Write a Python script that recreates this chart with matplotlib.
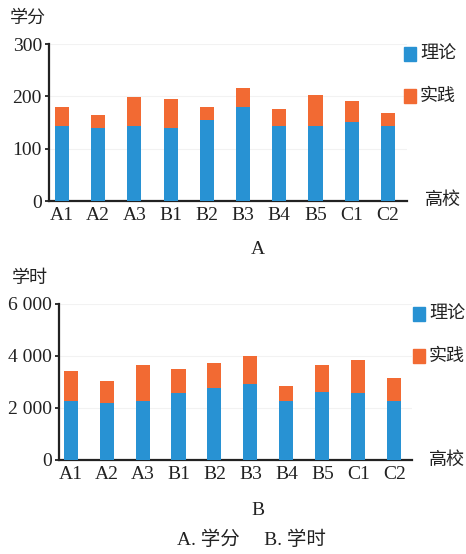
import matplotlib
matplotlib.use("Agg")
import matplotlib.pyplot as plt
import numpy as np

schools = ["A1", "A2", "A3", "B1", "B2", "B3", "B4", "B5", "C1", "C2"]
credit_theory = [144, 140, 144, 140, 155, 180, 144, 144, 151, 144]
credit_practice = [36, 25, 55, 55, 25, 37, 32, 58, 40, 25]
hour_theory = [2270, 2190, 2270, 2560, 2780, 2940, 2270, 2630, 2560, 2270]
hour_practice = [1160, 860, 1370, 940, 940, 1050, 580, 1010, 1300, 870]
credit_ticks = [0, 100, 200, 300]
credit_ticklabels = ["0", "100", "200", "300"]
hour_ticks = [0, 2000, 4000, 6000]
hour_ticklabels = ["0", "2 000", "4 000", "6 000"]
series_names = ["理论", "实践"]

BLUE = "#2892d3"
ORANGE = "#f26a33"
CJK = ["Noto Sans CJK SC", "DejaVu Sans"]
SERIF = ["Liberation Serif", "DejaVu Serif"]
TXT = "#222222"

fig = plt.figure(figsize=(4.66, 5.54), dpi=100)


def panel(rect, theory, practice, ticks, ticklabels, xlim):
    ax = fig.add_axes(rect)
    x = np.arange(len(schools))
    ax.bar(x, theory, width=0.39, color=BLUE, zorder=3)
    ax.bar(x, practice, width=0.39, bottom=theory, color=ORANGE, zorder=3)
    ax.set_xlim(*xlim)
    ax.set_ylim(ticks[0], ticks[-1])
    ax.set_yticks(ticks)
    ax.set_yticklabels(ticklabels, fontfamily=SERIF, fontsize=14, color=TXT)
    ax.set_xticks(x)
    ax.set_xticklabels(schools, fontfamily=SERIF, fontsize=14, color=TXT)
    for s in ["top", "right"]:
        ax.spines[s].set_visible(False)
    for s in ["left", "bottom"]:
        ax.spines[s].set_linewidth(1.6)
        ax.spines[s].set_color(TXT)
    ax.tick_params(axis="y", length=3, width=1.3, pad=2, color=TXT)
    ax.tick_params(axis="x", length=0, pad=4)
    for t in ticks[1:]:
        ax.axhline(t, color="#f2f2f2", lw=0.8, zorder=1)
    return ax


ax1 = panel([0.105, 0.637, 0.768, 0.2834], credit_theory, credit_practice,
            credit_ticks, credit_ticklabels, (-0.36, 9.52))
ax2 = panel([0.126, 0.1697, 0.758, 0.2816], hour_theory, hour_practice,
            hour_ticks, hour_ticklabels, (-0.33, 9.49))

# axis titles
fig.text(0.021, 0.9675, "学分", fontfamily=CJK, fontsize=13, ha="left", va="center", color=TXT)
fig.text(0.026, 0.498, "学时", fontfamily=CJK, fontsize=13, ha="left", va="center", color=TXT)
fig.text(0.912, 0.639, "高校", fontfamily=CJK, fontsize=13, ha="left", va="center", color=TXT)
fig.text(0.921, 0.170, "高校", fontfamily=CJK, fontsize=13, ha="left", va="center", color=TXT)
fig.text(0.554, 0.549, "A", fontfamily=SERIF, fontsize=14, ha="center", va="center", color=TXT)
fig.text(0.554, 0.078, "B", fontfamily=SERIF, fontsize=14, ha="center", va="center", color=TXT)

# legends
for lx, ly in [(0.866, 0.902), (0.886, 0.433)]:
    for i, (name, col) in enumerate(zip(series_names, [BLUE, ORANGE])):
        y = ly - i * 0.075
        fig.patches.append(plt.Rectangle((lx, y - 0.0125), 0.027, 0.025,
                                         transform=fig.transFigure, color=col))
        fig.text(lx + 0.035, y, name, fontfamily=CJK, fontsize=13,
                 ha="left", va="center", color=TXT)

fig.text(0.539, 0.025, "A. 学分     B. 学时",
         fontfamily=["Liberation Serif", "Noto Sans CJK SC"],
         fontsize=14, ha="center", va="center", color=TXT)

fig.savefig("out.png", dpi=100, facecolor="white")
